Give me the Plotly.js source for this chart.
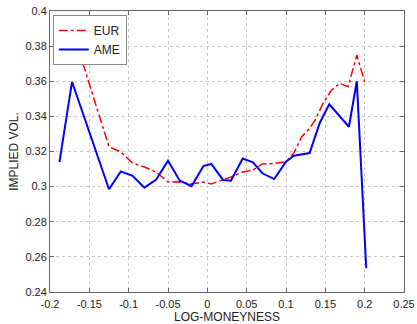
<!DOCTYPE html>
<html>
<head>
<meta charset="utf-8">
<script src="https://cdn.plot.ly/plotly-3.0.1.min.js"></script>
<style>html,body{margin:0;padding:0;background:#fff;}#chart{width:417px;height:324px;}</style>
</head>
<body>
<div id="chart"></div>
<script>
// EUR (European) implied volatility
var eurX = [-0.172, -0.125, -0.11, -0.095, -0.08, -0.065, -0.05, -0.035, -0.02, -0.005, 0.005, 0.02, 0.03, 0.045, 0.058, 0.07, 0.085, 0.1, 0.11, 0.12, 0.13, 0.137, 0.147, 0.158, 0.168, 0.179, 0.19, 0.2];
var eurY = [0.390, 0.3227, 0.3197, 0.3134, 0.3112, 0.3083, 0.3026, 0.3028, 0.3015, 0.3026, 0.3015, 0.3038, 0.3055, 0.3083, 0.3095, 0.3129, 0.3132, 0.3142, 0.3191, 0.3284, 0.3332, 0.3379, 0.3474, 0.355, 0.3588, 0.3569, 0.3749, 0.3597];
// AME (American) implied volatility
var ameX = [-0.188, -0.172, -0.125, -0.11, -0.095, -0.08, -0.065, -0.05, -0.035, -0.02, -0.005, 0.005, 0.02, 0.03, 0.045, 0.058, 0.07, 0.085, 0.1, 0.11, 0.13, 0.143, 0.155, 0.165, 0.18, 0.19, 0.202];
var ameY = [0.314, 0.3597, 0.2985, 0.3087, 0.3062, 0.2994, 0.304, 0.3148, 0.3034, 0.3003, 0.3117, 0.3129, 0.3038, 0.3034, 0.316, 0.3138, 0.3076, 0.3043, 0.3142, 0.3176, 0.3191, 0.3364, 0.3469, 0.3417, 0.3341, 0.36, 0.2535];

var xTicks = [-0.2, -0.15, -0.1, -0.05, 0, 0.05, 0.1, 0.15, 0.2, 0.25];
var xTickLabels = ['-0.2', '-0.15', '-0.1', '-0.05', '0', '0.05', '0.1', '0.15', '0.2', '0.25'];
var yTicks = [0.24, 0.26, 0.28, 0.3, 0.32, 0.34, 0.36, 0.38, 0.4];
var yTickLabels = ['0.24', '0.26', '0.28', '0.3', '0.32', '0.34', '0.36', '0.38', '0.4'];

var font = {family: 'Liberation Sans, Arial, sans-serif', size: 11, color: '#222'};
var titleFont = {family: 'Liberation Sans, Arial, sans-serif', size: 12, color: '#222'};

var traces = [
  {x: eurX, y: eurY, name: 'EUR', type: 'scatter', mode: 'lines',
   line: {color: '#ff0000', width: 1.5, dash: 'dashdot'}},
  {x: ameX, y: ameY, name: 'AME', type: 'scatter', mode: 'lines',
   line: {color: '#0000ff', width: 2}}
];

var axisCommon = {
  showline: true, linecolor: '#666', linewidth: 1, mirror: 'ticks',
  ticks: 'inside', ticklen: 4, tickcolor: '#666',
  showgrid: true, gridcolor: '#c8c8c8', griddash: 'dot', gridwidth: 1,
  zeroline: false, tickfont: font
};

var layout = {
  width: 417, height: 324,
  margin: {l: 50, r: 13, t: 11, b: 32},
  paper_bgcolor: '#fff', plot_bgcolor: '#fff',
  font: font,
  showlegend: true,
  legend: {x: 0.008, y: 0.986, xanchor: 'left', yanchor: 'top',
           bgcolor: '#fff', bordercolor: '#888', borderwidth: 1,
           font: {family: 'Liberation Sans, Arial, sans-serif', size: 12, color: '#222'},
           itemwidth: 30, tracegroupgap: 0},
  xaxis: Object.assign({}, axisCommon, {
    range: [-0.2, 0.25], tickvals: xTicks, ticktext: xTickLabels,
    ticklabelstandoff: 2,
    title: {text: 'LOG-MONEYNESS', font: titleFont, standoff: 1}
  }),
  yaxis: Object.assign({}, axisCommon, {
    range: [0.24, 0.4], tickvals: yTicks, ticktext: yTickLabels,
    title: {text: 'IMPLIED VOL.', font: titleFont, standoff: 4}
  })
};

Plotly.newPlot('chart', traces, layout, {displayModeBar: false, staticPlot: true});
</script>
</body>
</html>
